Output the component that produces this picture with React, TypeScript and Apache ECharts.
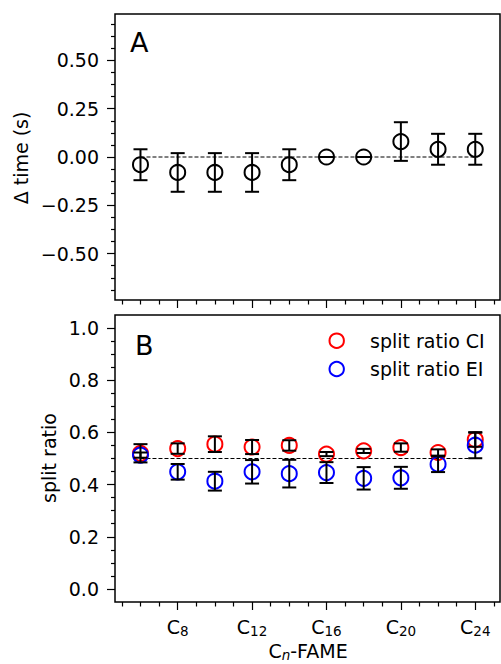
import React, { useEffect, useRef } from 'react';
import * as echarts from 'echarts';

// ---------------- data ----------------
const carbonNumbers = [6, 8, 10, 12, 14, 16, 18, 20, 22, 24];
const deltaTime = [-0.04, -0.08, -0.08, -0.08, -0.04, 0, 0, 0.08, 0.04, 0.04];
const deltaTimeErr = [0.08, 0.1, 0.1, 0.1, 0.08, 0, 0, 0.1, 0.08, 0.08];
const ratioCI = [0.52, 0.538, 0.555, 0.544, 0.55, 0.517, 0.529, 0.542, 0.523, 0.572];
const ratioCIErr = [0.035, 0.02, 0.03, 0.027, 0.02, 0.008, 0.008, 0.016, 0.012, 0.027];
const ratioEI = [0.513, 0.449, 0.413, 0.449, 0.442, 0.446, 0.424, 0.426, 0.478, 0.551];
const ratioEIErr = [0.01, 0.03, 0.036, 0.045, 0.053, 0.04, 0.043, 0.042, 0.03, 0.05];

const xMajorTicks = [8, 12, 16, 20, 24];
const xMinorTicks = [5, 6, 7, 9, 10, 11, 13, 14, 15, 17, 18, 19, 21, 22, 23, 25];
const yMajorTicksA = [-0.5, -0.25, 0, 0.25, 0.5];
const yMinorTicksA = [-0.6875, -0.625, -0.5625, -0.4375, -0.375, -0.3125, -0.1875, -0.125, -0.0625,
  0.0625, 0.125, 0.1875, 0.3125, 0.375, 0.4375, 0.5625, 0.625, 0.6875];
const yMajorTicksB = [0, 0.2, 0.4, 0.6, 0.8, 1.0];
const yMinorTicksB = [0.05, 0.1, 0.15, 0.25, 0.3, 0.35, 0.45, 0.5, 0.55, 0.65, 0.7, 0.75, 0.85, 0.9, 0.95];

const seriesNames = ['split ratio CI', 'split ratio EI'];
const panelLabels = ['A', 'B'];
const yTitles = ['\u0394 time (s)', 'split ratio'];

const X_MIN = 4.63;
const X_MAX = 25.33;
const FONT = 'DejaVu Sans';
const FS = 19;
const SUB = 13.5;

const fmtMinus = (s: string) => s.replace('-', '\u2212');

function xAxis(gridIndex: number, values: number[], len: number, withLabels: boolean) {
  return {
    type: 'value',
    gridIndex,
    min: X_MIN,
    max: X_MAX,
    position: 'bottom',
    axisLine: { show: false, onZero: false },
    splitLine: { show: false },
    axisTick: { show: true, inside: false, length: len, customValues: values, lineStyle: { color: '#000', width: 1.2 } },
    axisLabel: withLabels
      ? {
          show: true,
          customValues: xMajorTicks,
          margin: 14,
          formatter: (v: number) => `{c|C}{s|${v}}`,
          rich: {
            c: { fontSize: FS, fontFamily: FONT, color: '#000', lineHeight: 22, verticalAlign: 'middle' },
            s: { fontSize: SUB, fontFamily: FONT, color: '#000', lineHeight: 14, verticalAlign: 'bottom' },
          },
        }
      : { show: false },
  };
}

function yAxis(gridIndex: number, min: number, max: number, values: number[], len: number, labelDigits: number | null) {
  return {
    type: 'value',
    gridIndex,
    min,
    max,
    position: 'left',
    axisLine: { show: false, onZero: false },
    splitLine: { show: false },
    axisTick: { show: true, inside: false, length: len, customValues: values, lineStyle: { color: '#000', width: 1.2 } },
    axisLabel:
      labelDigits !== null
        ? {
            show: true,
            customValues: values,
            margin: 16,
            fontSize: FS,
            fontFamily: FONT,
            color: '#000',
            formatter: (v: number) => fmtMinus(v.toFixed(labelDigits)),
          }
        : { show: false },
  };
}

function errorBarSeries(xAxisIndex: number, yAxisIndex: number, values: number[], errs: number[], z: number) {
  return {
    type: 'custom',
    xAxisIndex,
    yAxisIndex,
    z,
    silent: true,
    clip: false,
    encode: { x: 0, y: 1 },
    data: carbonNumbers.map((n, i) => [n, values[i], errs[i]]),
    renderItem: (_params: any, api: any) => {
      const x = api.value(0);
      const v = api.value(1);
      const e = api.value(2);
      const top = api.coord([x, v + e]);
      const bot = api.coord([x, v - e]);
      const hw = 7;
      const style = { stroke: '#000', lineWidth: 2 };
      return {
        type: 'group',
        children: [
          { type: 'line', shape: { x1: top[0], y1: top[1], x2: bot[0], y2: bot[1] }, style },
          { type: 'line', shape: { x1: top[0] - hw, y1: top[1], x2: top[0] + hw, y2: top[1] }, style },
          { type: 'line', shape: { x1: bot[0] - hw, y1: bot[1], x2: bot[0] + hw, y2: bot[1] }, style },
        ],
      };
    },
  };
}

function markerSeries(name: string, xAxisIndex: number, yAxisIndex: number, values: number[], color: string, z: number) {
  return {
    type: 'scatter',
    name,
    xAxisIndex,
    yAxisIndex,
    z,
    symbol: 'circle',
    symbolSize: 15,
    silent: true,
    itemStyle: { color: 'rgba(0,0,0,0)', borderColor: color, borderWidth: 2, opacity: 1 },
    data: carbonNumbers.map((n, i) => [n, values[i]]),
  };
}

function refLine(xAxisIndex: number, yAxisIndex: number, yVal: number) {
  return {
    type: 'line',
    xAxisIndex,
    yAxisIndex,
    z: 1,
    symbol: 'none',
    silent: true,
    lineStyle: { color: '#000', width: 1, type: [4, 2] },
    data: [
      [carbonNumbers[0], yVal],
      [carbonNumbers[carbonNumbers.length - 1], yVal],
    ],
  };
}

export default function App() {
  const ref = useRef<HTMLDivElement>(null);
  useEffect(() => {
    if (!ref.current) return;
    const chart = echarts.init(ref.current, undefined, { renderer: 'svg' });
    const gridBox = { show: true, borderColor: '#000', borderWidth: 1.5, backgroundColor: 'transparent', containLabel: false };
    chart.setOption({
      animation: false,
      backgroundColor: '#fff',
      grid: [
        { ...gridBox, left: 115, top: 14, width: 385, height: 286 },
        { ...gridBox, left: 115, top: 315, width: 385, height: 287 },
      ],
      xAxis: [
        xAxis(0, xMajorTicks, 8, false),
        xAxis(0, xMinorTicks, 4.5, false),
        xAxis(1, xMajorTicks, 8, true),
        xAxis(1, xMinorTicks, 4.5, false),
      ],
      yAxis: [
        yAxis(0, -0.74, 0.74, yMajorTicksA, 8, 2),
        yAxis(0, -0.74, 0.74, yMinorTicksA, 4, null),
        yAxis(1, -0.05, 1.05, yMajorTicksB, 8, 1),
        yAxis(1, -0.05, 1.05, yMinorTicksB, 4, null),
      ],
      series: [
        refLine(0, 0, 0),
        errorBarSeries(0, 0, deltaTime, deltaTimeErr, 2),
        markerSeries('delta', 0, 0, deltaTime, '#000', 3),
        refLine(2, 2, 0.5),
        markerSeries(seriesNames[0], 2, 2, ratioCI, '#ff0000', 3),
        markerSeries(seriesNames[1], 2, 2, ratioEI, '#0000ff', 4),
        errorBarSeries(2, 2, ratioCI, ratioCIErr, 5),
        errorBarSeries(2, 2, ratioEI, ratioEIErr, 5),
      ],
      graphic: [
        { type: 'text', x: 130, y: 42, style: { text: panelLabels[0], fontSize: 27, fontFamily: FONT, fill: '#000', align: 'left', verticalAlign: 'middle' } },
        { type: 'text', x: 135, y: 345, style: { text: panelLabels[1], fontSize: 27, fontFamily: FONT, fill: '#000', align: 'left', verticalAlign: 'middle' } },
        { type: 'text', x: 20.5, y: 158, rotation: Math.PI / 2, style: { text: yTitles[0], fontSize: FS, fontFamily: FONT, fill: '#000', align: 'center', verticalAlign: 'middle' } },
        { type: 'text', x: 48.5, y: 458, rotation: Math.PI / 2, style: { text: yTitles[1], fontSize: FS, fontFamily: FONT, fill: '#000', align: 'center', verticalAlign: 'middle' } },
        {
          type: 'text', x: 308, y: 651,
          style: {
            text: '{a|C}{n|n}{a|-FAME}', align: 'center', verticalAlign: 'middle',
            rich: {
              a: { fontSize: FS, fontFamily: FONT, fill: '#000', lineHeight: 22, verticalAlign: 'middle' },
              n: { fontSize: SUB, fontFamily: FONT, fontStyle: 'italic', fill: '#000', lineHeight: 14, verticalAlign: 'bottom' },
            },
          },
        },
        { type: 'circle', shape: { cx: 336.7, cy: 340.7, r: 7.2 }, style: { fill: 'none', stroke: '#ff0000', lineWidth: 2 } },
        { type: 'circle', shape: { cx: 336.7, cy: 369, r: 7.2 }, style: { fill: 'none', stroke: '#0000ff', lineWidth: 2 } },
        { type: 'text', x: 370, y: 341, style: { text: seriesNames[0], fontSize: FS, fontFamily: FONT, fill: '#000', align: 'left', verticalAlign: 'middle' } },
        { type: 'text', x: 370, y: 369, style: { text: seriesNames[1], fontSize: FS, fontFamily: FONT, fill: '#000', align: 'left', verticalAlign: 'middle' } },
      ],
    });
    return () => chart.dispose();
  }, []);
  return <div ref={ref} style={{ position: 'absolute', left: 0, top: 0, width: 501, height: 664 }} />;
}
